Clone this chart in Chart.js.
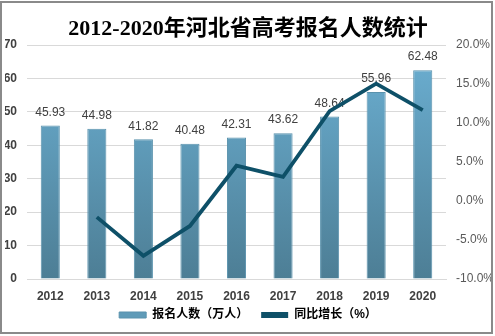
<!DOCTYPE html>
<html lang="zh">
<head>
<meta charset="UTF-8">
<title>2012-2020年河北省高考报名人数统计</title>
<script src="https://cdn.jsdelivr.net/npm/chart.js"></script>
<style>
  body { margin: 0; background: #fff; }
  canvas { display: block; }
</style>
</head>
<body>
<canvas id="myChart" width="495" height="336"></canvas>
<script>
// 数据
const years = ['2012', '2013', '2014', '2015', '2016', '2017', '2018', '2019', '2020'];
const applicants = [45.93, 44.98, 41.82, 40.48, 42.31, 43.62, 48.64, 55.96, 62.48];   // 万人
const growth = [null, -2.07, -7.03, -3.20, 4.52, 3.10, 11.51, 15.05, 11.65];         // %
const leftTicks = [0, 10, 20, 30, 40, 50, 60, 70];
const rightTicks = [-10, -5, 0, 5, 10, 15, 20];

const fontFamily = '"Liberation Sans", Arial, "Noto Sans CJK SC", sans-serif';

// 外框 + 白底
const framePlugin = {
    id: 'frame',
    beforeDraw(chart) {
        const c = chart.ctx;
        c.save();
        c.fillStyle = '#fff';
        c.fillRect(0, 0, chart.width, chart.height);
        c.strokeStyle = '#8a8a8a';
        c.lineWidth = 2;
        c.strokeRect(1, 2, 491, 331);
        c.restore();
    }
};

// 柱子上方的数值标签（画在折线之前）
const barLabels = {
    id: 'barLabels',
    afterDatasetDraw(chart, args) {
        if (args.index !== 0) return;
        const c = chart.ctx;
        c.save();
        c.font = '12px ' + fontFamily;
        c.fillStyle = '#404040';
        c.textAlign = 'center';
        c.textBaseline = 'middle';
        args.meta.data.forEach((bar, i) => {
            c.fillText(applicants[i].toFixed(2), bar.x, bar.y - 13);
        });
        c.restore();
    }
};

function barGradient(context) {
    const area = context.chart.chartArea;
    if (!area) return '#5f9bb8';
    const g = context.chart.ctx.createLinearGradient(0, area.top, 0, area.bottom);
    g.addColorStop(0, '#6cb0d3');
    g.addColorStop(1, '#4d7e95');
    return g;
}

const ctx = document.getElementById('myChart').getContext('2d');
new Chart(ctx, {
    data: {
        labels: years,
        datasets: [
            {
                type: 'bar',
                label: '报名人数（万人）',
                data: applicants,
                yAxisID: 'y',
                backgroundColor: barGradient,
                borderColor: '#5a92ad',
                borderWidth: 1,
                categoryPercentage: 0.82,
                barPercentage: 0.5,
                order: 1
            },
            {
                type: 'line',
                label: '同比增长（%）',
                data: growth,
                yAxisID: 'y1',
                borderColor: '#0e5068',
                backgroundColor: '#0e5068',
                borderWidth: 3.8,
                pointRadius: 0,
                tension: 0,
                order: 0
            }
        ]
    },
    options: {
        responsive: false,
        animation: false,
        devicePixelRatio: 1,
        layout: { padding: { left: 5, right: 4, top: 0, bottom: 5 } },
        plugins: {
            title: {
                display: true,
                text: '2012-2020年河北省高考报名人数统计',
                color: '#000',
                font: { family: '"Liberation Serif", "Noto Sans CJK SC", serif', size: 22, weight: 'bold' },
                padding: { top: 16, bottom: 2.6 }
            },
            legend: {
                position: 'bottom',
                labels: {
                    boxWidth: 27,
                    boxHeight: 6,
                    padding: 7,
                    color: '#595959',
                    font: { family: fontFamily, size: 12, weight: 'bold' },
                    generateLabels() {
                        // 末尾的全角空格用来拉开两个图例之间的距离
                        return [
                            { text: '报名人数（万人）\u3000', fillStyle: '#5f9bb8', strokeStyle: '#5a92ad', lineWidth: 1, datasetIndex: 0 },
                            { text: '同比增长（%）', fillStyle: '#0e5068', strokeStyle: '#0e5068', lineWidth: 0, datasetIndex: 1 }
                        ];
                    }
                }
            },
            tooltip: { enabled: false }
        },
        scales: {
            x: {
                grid: { display: false, drawTicks: false },
                border: { display: true, color: '#d9d9d9' },
                ticks: {
                    color: '#404040',
                    padding: 10,
                    font: { family: fontFamily, size: 12, weight: 'bold' }
                },
                afterFit(scale) { scale.height = 23; }
            },
            y: {
                position: 'left',
                min: 0,
                max: 70,
                afterBuildTicks(scale) { scale.ticks = leftTicks.map(v => ({ value: v })); },
                grid: { color: '#d9d9d9', drawTicks: false },
                border: { display: false },
                ticks: {
                    color: '#404040',
                    padding: 10,
                    font: { family: fontFamily, size: 12, weight: 'bold' }
                },
                afterFit(scale) { scale.width = 22; }
            },
            y1: {
                position: 'right',
                min: -10,
                max: 20,
                afterBuildTicks(scale) { scale.ticks = rightTicks.map(v => ({ value: v })); },
                grid: { drawOnChartArea: false, drawTicks: false },
                border: { display: false },
                ticks: {
                    color: '#595959',
                    padding: 10,
                    font: { family: fontFamily, size: 12 },
                    callback: v => v.toFixed(1) + '%'
                },
                afterFit(scale) { scale.width = 45; }
            }
        }
    },
    plugins: [framePlugin, barLabels]
});
</script>
</body>
</html>
